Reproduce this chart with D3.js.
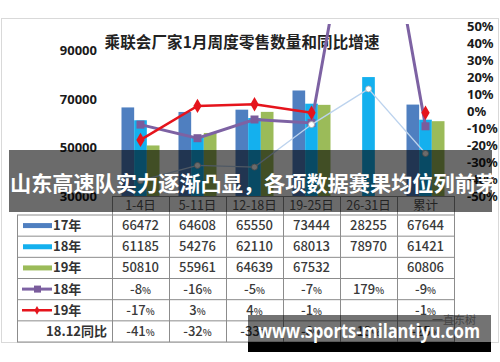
<!DOCTYPE html>
<html>
<head>
<meta charset="utf-8">
<script src="https://cdn.jsdelivr.net/npm/d3@7"></script>
<style>
body { margin: 0; background: #fff; }
svg { display: block; }
</style>
</head>
<body>
<div id="chart"></div>
<script>
const categories = ['1-4日', '5-11日', '12-18日', '19-25日', '26-31日', '累计'];
const sales17 = [66472, 64608, 65550, 73444, 28255, 67644];
const sales18 = [61185, 54276, 62110, 68013, 78970, 61421];
const sales19 = [50810, 55961, 64639, 67532, null, 60806];
const growth18 = [-8, -16, -5, -7, 179, -9];
const growth19 = [-17, 3, 4, -1, null, -1];
const yoyDec18 = [-41, -32, -33, -8, 13, -25];
const leftTicks = [30000, 50000, 70000, 90000];
const rightTicks = [-50, -40, -30, -20, -10, 0, 10, 20, 30, 40, 50];

const W = 500, H = 362;
const font = '"Noto Sans CJK SC", "Noto Sans", sans-serif';
const c17 = '#4f7fc0', c18 = '#14b0ee', c19 = '#9bbb59';
const cPurple = '#7d62a3', cRed = '#e5141c', cThin = '#bcd3ee';

const svg = d3.select('#chart').append('svg')
    .attr('width', W)
    .attr('height', H)
    .style('font-family', font);

// chart frame
svg.append('rect')
    .attr('x', 1.5).attr('y', 18.5)
    .attr('width', 497).attr('height', 324)
    .attr('fill', '#fff')
    .attr('stroke', '#d9d9d9');

svg.append('text')
    .attr('x', 242).attr('y', 48)
    .attr('text-anchor', 'middle')
    .attr('font-size', 15.5)
    .attr('font-weight', 'bold')
    .attr('fill', '#222')
    .attr('textLength', 275)
    .text('乘联会厂家1月周度零售数量和同比增速');

const x = d3.scaleBand().domain(categories).range([112, 454]);
const xSub = d3.scaleBand().domain(['17', '18', '19']).range([9.5, 47.5]);
const yL = d3.scaleLinear().domain([30000, 100000]).range([196, 26]);
const yR = d3.scaleLinear().domain([-50, 50]).range([196, 26]);

// axes
const axL = svg.append('g').attr('transform', 'translate(97,0)')
    .call(d3.axisLeft(yL).tickValues(leftTicks).tickSize(0).tickPadding(0)
        .tickFormat(d3.format('d')));
const axR = svg.append('g').attr('transform', 'translate(467,0)')
    .call(d3.axisRight(yR).tickValues(rightTicks).tickSize(0).tickPadding(0)
        .tickFormat(d => d + '%'));
[axL, axR].forEach(function (ax) {
    ax.select('.domain').remove();
    ax.selectAll('text')
        .style('font-family', '"Noto Sans", sans-serif')
        .attr('font-size', 13)
        .attr('font-weight', 'bold')
        .attr('fill', '#1a1a1a');
});

svg.append('clipPath').attr('id', 'plot')
    .append('rect').attr('x', 0).attr('y', 24).attr('width', W).attr('height', 172);
const plot = svg.append('g').attr('clip-path', 'url(#plot)');

// bars
const barSeries = [
    { key: '17', color: c17, values: sales17 },
    { key: '18', color: c18, values: sales18 },
    { key: '19', color: c19, values: sales19 }
];
barSeries.forEach(function (s) {
    plot.append('g').selectAll('rect')
        .data(categories.map((c, i) => ({ c: c, v: s.values[i] }))
            .filter(d => d.v != null && d.v > yL.domain()[0]))
        .enter().append('rect')
        .attr('x', d => x(d.c) + xSub(s.key))
        .attr('y', d => yL(d.v))
        .attr('width', xSub.bandwidth())
        .attr('height', d => yL(yL.domain()[0]) - yL(d.v))
        .attr('fill', s.color);
});

const cx = c => x(c) + x.bandwidth() / 2;
function pts(values) {
    return categories.map((c, i) => ({ c: c, v: values[i] }));
}
const line = d3.line()
    .defined(d => d.v != null)
    .x(d => cx(d.c))
    .y(d => yR(d.v));

// 18年 growth
plot.append('path')
    .attr('d', line(pts(growth18)))
    .attr('fill', 'none')
    .attr('stroke', cPurple)
    .attr('stroke-width', 3);
plot.append('g').selectAll('rect')
    .data(pts(growth18))
    .enter().append('rect')
    .attr('x', d => cx(d.c) - 4)
    .attr('y', d => yR(d.v) - 4)
    .attr('width', 8).attr('height', 8)
    .attr('fill', '#7a5c9c');

// 19年 growth
plot.append('path')
    .attr('d', line(pts(growth19)))
    .attr('fill', 'none')
    .attr('stroke', cRed)
    .attr('stroke-width', 2.5);
plot.append('g').selectAll('path')
    .data(pts(growth19).filter(d => d.v != null))
    .enter().append('path')
    .attr('d', d3.symbol(d3.symbolDiamond, 60))
    .attr('transform', d => 'translate(' + [cx(d.c), yR(d.v)] + ')')
    .attr('fill', cRed);

// 18.12 同比
plot.append('path')
    .attr('d', line(pts(yoyDec18)))
    .attr('fill', 'none')
    .attr('stroke', cThin)
    .attr('stroke-width', 1.3);
plot.append('g').selectAll('circle')
    .data(pts(yoyDec18))
    .enter().append('circle')
    .attr('cx', d => cx(d.c))
    .attr('cy', d => yR(d.v))
    .attr('r', 3)
    .attr('fill', '#fff')
    .attr('stroke', '#a9a9a9')
    .attr('stroke-width', 0.8);

// data table
const headTop = 196, tableTop = 215, rowH = 21.17;
const rows = [
    { label: '17年', kind: 'bar', color: c17, values: sales17, pct: false },
    { label: '18年', kind: 'bar', color: c18, values: sales18, pct: false },
    { label: '19年', kind: 'bar', color: c19, values: sales19, pct: false },
    { label: '18年', kind: 'square', color: cPurple, values: growth18, pct: true },
    { label: '19年', kind: 'diamond', color: cRed, values: growth19, pct: true },
    { label: '18.12同比', kind: 'none', color: null, values: yoyDec18, pct: true }
];
const table = svg.append('g');
const gridColor = '#8c8c8c';
const tableBottom = tableTop + rowH * rows.length;

table.append('line')
    .attr('x1', x.range()[0]).attr('x2', x.range()[1])
    .attr('y1', headTop + 0.5).attr('y2', headTop + 0.5)
    .attr('stroke', gridColor);
d3.range(rows.length + 1).forEach(function (i) {
    table.append('line')
        .attr('x1', 17).attr('x2', x.range()[1])
        .attr('y1', tableTop + i * rowH).attr('y2', tableTop + i * rowH)
        .attr('stroke', gridColor);
});
table.append('line')
    .attr('x1', 17.5).attr('x2', 17.5)
    .attr('y1', tableTop).attr('y2', tableBottom)
    .attr('stroke', gridColor);
categories.concat([null]).forEach(function (c) {
    const xx = c == null ? x.range()[1] : x(c);
    table.append('line')
        .attr('x1', xx + 0.5).attr('x2', xx + 0.5)
        .attr('y1', headTop).attr('y2', tableBottom)
        .attr('stroke', gridColor);
});

table.selectAll('text.head')
    .data(categories)
    .enter().append('text')
    .attr('class', 'head')
    .attr('x', d => cx(d))
    .attr('y', headTop + 14)
    .attr('text-anchor', 'middle')
    .attr('font-size', 12.5)
    .attr('fill', '#555')
    .text(d => d);

rows.forEach(function (r, i) {
    const ym = tableTop + i * rowH + rowH / 2;
    const g = table.append('g');
    if (r.kind === 'bar') {
        g.append('rect')
            .attr('x', 23).attr('y', ym - 2.5)
            .attr('width', 29).attr('height', 5)
            .attr('fill', r.color);
    } else if (r.kind === 'square') {
        g.append('line').attr('x1', 22).attr('x2', 52)
            .attr('y1', ym).attr('y2', ym)
            .attr('stroke', r.color).attr('stroke-width', 3);
        g.append('rect').attr('x', 34).attr('y', ym - 3.5)
            .attr('width', 7).attr('height', 7).attr('fill', '#7a5c9c');
    } else if (r.kind === 'diamond') {
        g.append('line').attr('x1', 22).attr('x2', 52)
            .attr('y1', ym).attr('y2', ym)
            .attr('stroke', r.color).attr('stroke-width', 2.5);
        g.append('path').attr('d', d3.symbol(d3.symbolDiamond, 22))
            .attr('transform', 'translate(' + [37, ym] + ')')
            .attr('fill', r.color);
    }
    g.append('text')
        .attr('x', r.kind === 'none' ? 107 : 53)
        .attr('y', ym + 4.5)
        .attr('text-anchor', r.kind === 'none' ? 'end' : 'start')
        .attr('font-size', 13)
        .attr('font-weight', 'bold')
        .attr('fill', '#333')
        .text(r.label);

    categories.forEach(function (c, j) {
        const v = r.values[j];
        if (v == null) return;
        const t = g.append('text')
            .attr('x', cx(c))
            .attr('y', ym + 4.5)
            .attr('text-anchor', 'middle')
            .attr('font-size', 13)
            .attr('font-weight', 500)
            .attr('fill', '#3a3a3a');
        if (r.pct) {
            t.append('tspan').text(v);
            t.append('tspan').attr('font-size', 9.5).text('%');
        } else {
            t.text(v);
        }
    });
});

// caption overlay
svg.append('rect')
    .attr('x', 9).attr('y', 150)
    .attr('width', 483).attr('height', 62)
    .attr('fill', 'rgba(0,0,0,0.58)');
svg.append('text')
    .attr('x', 10).attr('y', 191)
    .attr('font-size', 21)
    .attr('font-weight', 'bold')
    .attr('fill', '#fff')
    .attr('textLength', 487)
    .attr('lengthAdjust', 'spacingAndGlyphs')
    .text('山东高速队实力逐渐凸显，各项数据赛果均位列前茅');

// source mark + site watermark
svg.append('text')
    .attr('x', 432).attr('y', 324)
    .attr('font-size', 11)
    .attr('fill', '#999')
    .text('一直东树');
svg.append('rect')
    .attr('x', 248).attr('y', 315)
    .attr('width', 243).attr('height', 27)
    .attr('fill', 'rgba(0,0,0,0.55)');
svg.append('rect')
    .attr('x', 248).attr('y', 342)
    .attr('width', 243).attr('height', 10)
    .attr('fill', '#000');
svg.append('text')
    .attr('x', 258).attr('y', 338)
    .style('font-family', '"Open Sans", sans-serif')
    .attr('font-size', 20)
    .attr('font-weight', 'bold')
    .attr('fill', '#fff')
    .attr('textLength', 222)
    .attr('lengthAdjust', 'spacingAndGlyphs')
    .text('www.sports-milantiyu.com');
</script>
</body>
</html>
